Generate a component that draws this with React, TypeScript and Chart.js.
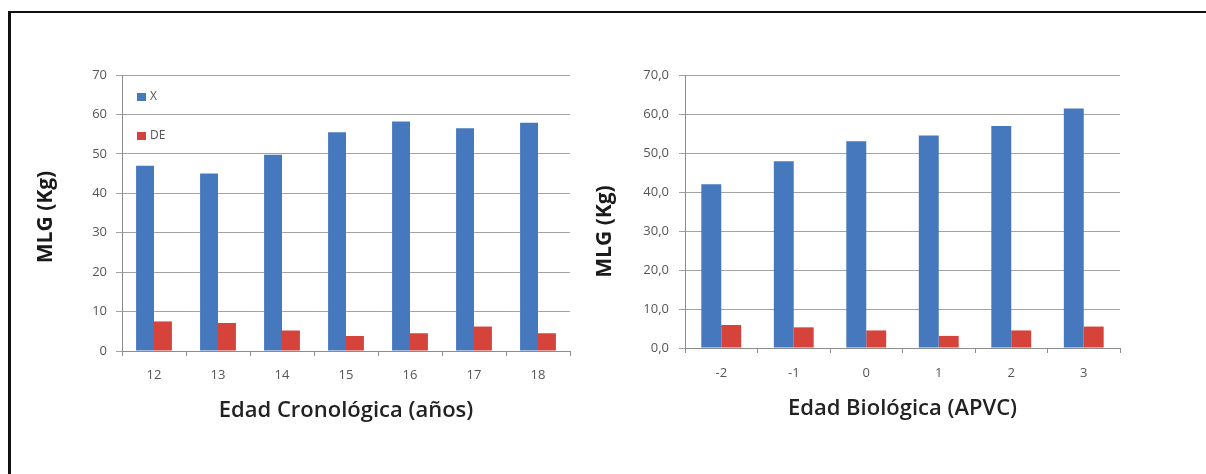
import { useEffect, useRef } from "react";
import { Chart, registerables } from "chart.js";

Chart.register(...registerables);

// Left panel: chronological age
const chronoAges = ["12", "13", "14", "15", "16", "17", "18"];
const chronoMean = [47.0, 45.0, 49.8, 55.5, 58.2, 56.5, 57.9];
const chronoSD = [7.5, 7.1, 5.2, 3.8, 4.5, 6.2, 4.5];
const chronoTickLabels = ["0", "10", "20", "30", "40", "50", "60", "70"];

// Right panel: biological age (years from peak height velocity)
const apvcYears = ["-2", "-1", "0", "1", "2", "3"];
const apvcMean = [42.0, 47.9, 53.0, 54.5, 56.9, 61.4];
const apvcSD = [5.9, 5.3, 4.5, 3.1, 4.5, 5.5];
const apvcTickLabels = ["0,0", "10,0", "20,0", "30,0", "40,0", "50,0", "60,0", "70,0"];

const seriesNames = ["X", "DE"];
const yTitle = "MLG (Kg)";

const BLUE = "#4678BE";
const RED = "#D5433A";
const GRID = "#A3A3A3";
const AXIS = "#8C8C8C";
const TICK_TEXT = "#555555";
const FONT = "'Open Sans', 'Liberation Sans', sans-serif";

// Legend drawn inside the plot area, stacked vertically at the top-left.
const insideLegend = {
  id: "insideLegend",
  afterDraw(chart: any, _args: any, opts: any) {
    if (!opts || !opts.display) return;
    const { ctx, chartArea } = chart;
    ctx.save();
    ctx.font = `12px ${FONT}`;
    ctx.textBaseline = "middle";
    ctx.textAlign = "left";
    chart.data.datasets.forEach((ds: any, i: number) => {
      const x = chartArea.left + opts.dx;
      const y = chartArea.top + opts.dy + i * opts.gap;
      ctx.fillStyle = ds.backgroundColor;
      ctx.fillRect(x, y - 4, 9, 8);
      ctx.fillStyle = TICK_TEXT;
      ctx.fillText(ds.label, x + 13, y);
    });
    ctx.restore();
  },
};

// Rotated value-axis title placed left of the plot area.
const sideTitle = {
  id: "sideTitle",
  afterDraw(chart: any, _args: any, opts: any) {
    if (!opts || !opts.text) return;
    const { ctx, chartArea } = chart;
    ctx.save();
    ctx.font = `bold 21px ${FONT}`;
    ctx.fillStyle = "#1A1A1A";
    ctx.textAlign = "center";
    ctx.textBaseline = "middle";
    ctx.translate(chartArea.left - opts.dx, (chartArea.top + chartArea.bottom) / 2 + opts.dy);
    ctx.rotate(-Math.PI / 2);
    ctx.fillText(opts.text, 0, 0);
    ctx.restore();
  },
};

type Geo = {
  pad: { top: number; right: number; left: number; bottom: number };
  yWidth: number;
  xHeight: number;
  yTickPad: number;
  xTickPad: number;
  xTitlePad: number;
  titleDx: number;
  titleDy: number;
  catPct: number;
  legend: boolean;
};

function makeConfig(labels: string[], mean: number[], sd: number[], tickLabels: string[], xTitle: string, g: Geo): any {
  return {
    type: "bar",
    data: {
      labels,
      datasets: [
        { label: seriesNames[0], data: mean, backgroundColor: BLUE, borderWidth: 0 },
        { label: seriesNames[1], data: sd, backgroundColor: RED, borderWidth: 0 },
      ],
    },
    plugins: [insideLegend, sideTitle],
    options: {
      responsive: false,
      animation: false,
      layout: { padding: g.pad },
      datasets: { bar: { categoryPercentage: g.catPct, barPercentage: 1.0 } },
      plugins: {
        legend: { display: false },
        tooltip: { enabled: false },
        insideLegend: { display: g.legend, dx: 15, dy: 22, gap: 39 },
        sideTitle: { text: yTitle, dx: g.titleDx, dy: g.titleDy },
      },
      scales: {
        x: {
          offset: true,
          grid: {
            offset: true,
            drawOnChartArea: false,
            drawTicks: true,
            tickLength: 5,
            color: AXIS,
          },
          border: { display: true, color: AXIS, width: 1 },
          ticks: { color: TICK_TEXT, font: { family: FONT, size: 13 }, padding: g.xTickPad, maxRotation: 0 },
          title: {
            display: true,
            text: xTitle,
            color: "#222222",
            font: { family: FONT, size: 22, weight: "600" },
            padding: { top: 0, bottom: g.xTitlePad },
          },
          afterFit: (scale: any) => {
            scale.height = g.xHeight;
          },
        },
        y: {
          min: 0,
          max: 70,
          ticks: {
            stepSize: 10,
            color: TICK_TEXT,
            font: { family: FONT, size: 13 },
            padding: g.yTickPad,
            callback: (_v: any, i: number) => tickLabels[i],
          },
          grid: { color: GRID, lineWidth: 1, drawTicks: true, tickLength: 6 },
          border: { display: true, color: AXIS, width: 1 },
          afterFit: (scale: any) => {
            scale.width = g.yWidth;
          },
        },
      },
    },
  };
}

function BarPanel(props: { config: any; left: number; width: number }) {
  const ref = useRef<HTMLCanvasElement | null>(null);
  useEffect(() => {
    if (!ref.current) return;
    const chart = new Chart(ref.current, props.config);
    return () => chart.destroy();
  }, [props.config]);
  return (
    <canvas
      ref={ref}
      width={props.width}
      height={474}
      style={{ position: "absolute", left: props.left, top: 0, width: props.width, height: 474 }}
    />
  );
}

const leftConfig = makeConfig(chronoAges, chronoMean, chronoSD, chronoTickLabels, "Edad Cronológica (años)", {
  pad: { top: 75, right: 30, left: 0, bottom: 0 },
  yWidth: 122,
  xHeight: 123,
  yTickPad: 9,
  xTickPad: 11,
  xTitlePad: 50,
  titleDx: 76,
  titleDy: 4,
  catPct: 0.56,
  legend: true,
});

const rightConfig = makeConfig(apvcYears, apvcMean, apvcSD, apvcTickLabels, "Edad Biológica (APVC)", {
  pad: { top: 75, right: 86, left: 0, bottom: 0 },
  yWidth: 95,
  xHeight: 126,
  yTickPad: 10,
  xTickPad: 12,
  xTitlePad: 52,
  titleDx: 80,
  titleDy: 20,
  catPct: 0.55,
  legend: false,
});

export default function App() {
  return (
    <div
      style={{
        position: "absolute",
        left: 0,
        top: 0,
        width: 1206,
        height: 474,
        overflow: "hidden",
        background: "#ffffff",
      }}
    >
      <div
        style={{
          position: "absolute",
          left: 8,
          top: 11,
          width: 1220,
          height: 480,
          borderTop: "2px solid #111111",
          borderLeft: "3px solid #111111",
        }}
      />
      <BarPanel config={leftConfig} left={0} width={600} />
      <BarPanel config={rightConfig} left={590} width={616} />
    </div>
  );
}
